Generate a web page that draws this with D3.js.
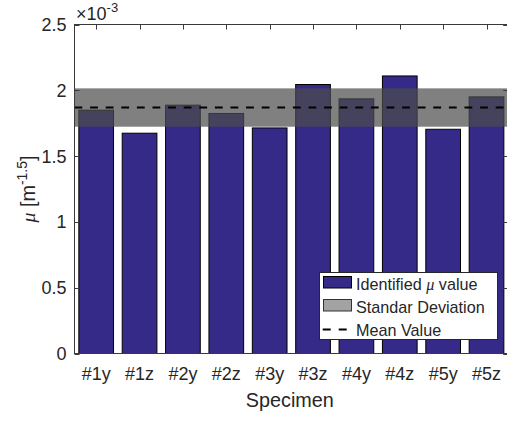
<!DOCTYPE html>
<html>
<head>
<meta charset="utf-8">
<script src="https://cdn.jsdelivr.net/npm/d3@7"></script>
<style>
  html, body { margin: 0; padding: 0; background: #fff; }
  svg { display: block; }
  text { font-family: "Liberation Sans", Arial, Helvetica, sans-serif; fill: #262626; }
</style>
</head>
<body>
<script>
// Identified mu per specimen
const categories = ["#1y", "#1z", "#2y", "#2z", "#3y", "#3z", "#4y", "#4z", "#5y", "#5z"];
const muValues = [1.849e-3, 1.674e-3, 1.887e-3, 1.824e-3, 1.714e-3, 2.044e-3, 1.935e-3, 2.109e-3, 1.704e-3, 1.950e-3];
const yTicks = [0, 0.5e-3, 1.0e-3, 1.5e-3, 2.0e-3, 2.5e-3];
const yTickLabels = ["0", "0.5", "1", "1.5", "2", "2.5"];
const legendLabels = ["Identified", "Standar Deviation", "Mean Value"];

const W = 507, H = 422;
const plotLeft = 74.5, plotTop = 24.5, plotBottom = 353.5;
const step = 43.37;
const plotRight = plotLeft + step * categories.length;   // x-limits 0.5 .. 10.5

const barColor = "#352a87";
const textColor = "#262626";
const axisColor = "#3a3a3a";
const greekFont = "Liberation Serif, Times New Roman, serif";

const meanVal = d3.mean(muValues);
const sdVal = d3.deviation(muValues);

const svg = d3.select("body").append("svg").attr("width", W).attr("height", H);

const x = d3.scaleBand().domain(categories).range([plotLeft, plotRight])
  .paddingInner(0.2).paddingOuter(0.1);
const y = d3.scaleLinear().domain([0, 2.5e-3]).range([plotBottom, plotTop]);

svg.append("defs").append("clipPath").attr("id", "plotArea")
  .append("rect").attr("x", plotLeft).attr("y", plotTop)
  .attr("width", plotRight - plotLeft).attr("height", plotBottom - plotTop);

const plot = svg.append("g").attr("clip-path", "url(#plotArea)");

// bars
plot.selectAll("rect.bar").data(muValues).join("rect")
  .attr("class", "bar")
  .attr("x", (d, i) => x(categories[i]))
  .attr("width", x.bandwidth())
  .attr("y", d => y(d))
  .attr("height", d => y(0) - y(d))
  .attr("fill", barColor)
  .attr("stroke", "#000")
  .attr("stroke-width", 1);

// standard deviation band
plot.append("rect")
  .attr("x", plotLeft).attr("width", plotRight - plotLeft)
  .attr("y", y(meanVal + sdVal))
  .attr("height", y(meanVal - sdVal) - y(meanVal + sdVal))
  .attr("fill", "#4c4c4c").attr("fill-opacity", 0.71);

// mean line
plot.append("line")
  .attr("x1", plotLeft).attr("x2", plotRight)
  .attr("y1", y(meanVal)).attr("y2", y(meanVal))
  .attr("stroke", "#000").attr("stroke-width", 2)
  .attr("stroke-dasharray", "7.8,7.8");

// axes box
svg.append("rect")
  .attr("x", plotLeft).attr("y", plotTop)
  .attr("width", plotRight - plotLeft).attr("height", plotBottom - plotTop)
  .attr("fill", "none").attr("stroke", axisColor).attr("stroke-width", 1);

// y ticks (inward, both sides)
const yAxisG = svg.append("g");
yTicks.forEach((t, i) => {
  const yy = Math.round(y(t)) + 0.5;
  yAxisG.append("line").attr("x1", plotLeft).attr("x2", plotLeft + 5).attr("y1", yy).attr("y2", yy)
    .attr("stroke", axisColor);
  yAxisG.append("line").attr("x1", plotRight - 5).attr("x2", plotRight).attr("y1", yy).attr("y2", yy)
    .attr("stroke", axisColor);
  yAxisG.append("text")
    .attr("x", 66.5).attr("y", y(t) + 6.5)
    .attr("text-anchor", "end")
    .attr("font-size", 18)
    .text(yTickLabels[i]);
});

// x ticks (inward, top) and labels
const xAxisG = svg.append("g");
categories.forEach(c => {
  const xx = Math.round(x(c) + x.bandwidth() / 2) + 0.5;
  xAxisG.append("line").attr("x1", xx).attr("x2", xx).attr("y1", plotTop).attr("y2", plotTop + 5)
    .attr("stroke", axisColor);
  xAxisG.append("text")
    .attr("x", x(c) + x.bandwidth() / 2).attr("y", 380)
    .attr("text-anchor", "middle")
    .attr("font-size", 18)
    .text(c);
});

// exponent marker
const expo = svg.append("text").attr("x", 76).attr("y", 20).attr("font-size", 18);
expo.append("tspan").text("\u00d710");
expo.append("tspan").attr("dy", -8).attr("font-size", 13).text("-3");

// axis titles
svg.append("text")
  .attr("x", (plotLeft + plotRight) / 2 - 1.5).attr("y", 407)
  .attr("text-anchor", "middle")
  .attr("font-size", 19.8)
  .text("Specimen");

const yl = svg.append("text")
  .attr("transform", `translate(35,${(plotTop + plotBottom) / 2}) rotate(-90)`)
  .attr("text-anchor", "middle")
  .attr("font-size", 19.8);
yl.append("tspan").attr("font-family", greekFont).attr("font-style", "italic").text("\u03bc");
yl.append("tspan").text(" [m");
yl.append("tspan").attr("dy", -8).attr("font-size", 14).text("-1.5");
yl.append("tspan").attr("dy", 8).text("]");

// legend
const lg = svg.append("g");
lg.append("rect").attr("x", 319.5).attr("y", 272.5).attr("width", 178).attr("height", 67)
  .attr("fill", "#fff").attr("stroke", textColor).attr("stroke-width", 1);

lg.append("rect").attr("x", 323.5).attr("y", 276.5).attr("width", 28).attr("height", 11.5)
  .attr("fill", barColor).attr("stroke", "#000");
lg.append("rect").attr("x", 323.5).attr("y", 299.5).attr("width", 28).attr("height", 11.5)
  .attr("fill", "#a3a3a3").attr("stroke", "#333");
lg.append("line").attr("x1", 322.7).attr("x2", 347).attr("y1", 329.5).attr("y2", 329.5)
  .attr("stroke", "#000").attr("stroke-width", 2).attr("stroke-dasharray", "8,8");

const t1 = lg.append("text").attr("x", 356).attr("y", 290).attr("font-size", 16.2);
t1.append("tspan").text(legendLabels[0] + " ");
t1.append("tspan").attr("font-family", greekFont).attr("font-style", "italic").text("\u03bc");
t1.append("tspan").text(" value");
lg.append("text").attr("x", 356).attr("y", 313).attr("font-size", 16.2).text(legendLabels[1]);
lg.append("text").attr("x", 356).attr("y", 336).attr("font-size", 16.2).text(legendLabels[2]);
</script>
</body>
</html>
